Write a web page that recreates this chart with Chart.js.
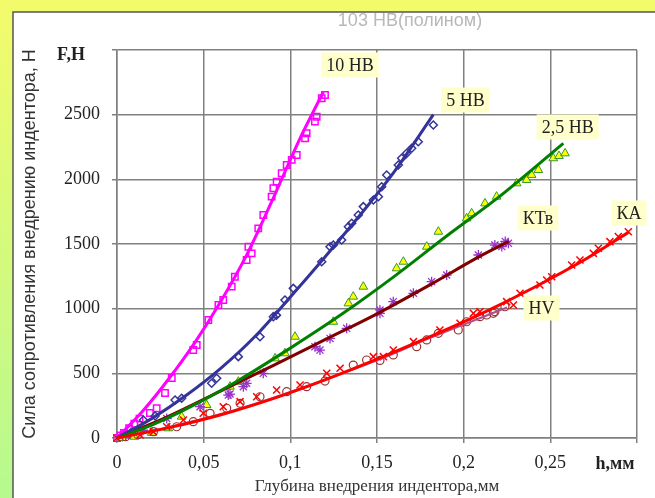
<!DOCTYPE html>
<html><head><meta charset="utf-8">
<script src="https://cdn.jsdelivr.net/npm/chart.js@4.4.0/dist/chart.umd.min.js"></script>
<style>html,body{margin:0;padding:0;overflow:hidden;background:#fff}
#wrap{width:655px;height:498px;position:relative}</style></head>
<body><div id="wrap"><canvas id="c" width="655" height="498"></canvas></div>
<script>
// ---- axis ticks ----
const xTicks = [0, 0.05, 0.1, 0.15, 0.2, 0.25, 0.3];
const yTicks = [0, 500, 1000, 1500, 2000, 2500, 3000];

// ---- 10 HB (markers + trend) ----
const hb10H = [0,0.002,0.004,0.007,0.010,0.013,0.019,0.0229,0.0277,0.0316,0.044,0.046,0.0527,0.0585,0.0613,0.0662,0.068,0.0748,0.0777,0.0758,0.0815,0.0844,0.0892,0.0902,0.0921,0.095,0.0979,0.1008,0.1037,0.1085,0.1094,0.1142,0.1152,0.1181,0.12];
const hb10F = [0,20,40,75,110,150,193,230,348,464,680,719,912,1028,1067,1170,1247,1376,1428,1479,1621,1724,1866,1931,1982,2047,2111,2150,2188,2317,2356,2446,2484,2627,2652];
const hb10FitH = [0,0.015,0.03,0.045,0.06,0.075,0.09,0.105,0.119];
const hb10FitF = [0,210,460,740,1060,1420,1850,2300,2675];

// ---- 5 HB ----
const hb5H = [0.003,0.008,0.0152,0.022,0.0335,0.0373,0.0546,0.0575,0.07,0.0825,0.0902,0.092,0.0969,0.1017,0.1181,0.1229,0.1248,0.1296,0.1335,0.1354,0.1392,0.1421,0.1479,0.1508,0.1527,0.1556,0.1623,0.1642,0.1671,0.17,0.1738,0.1825];
const hb5F = [10,40,139,170,294,307,423,462,629,783,938,950,1067,1157,1363,1479,1492,1531,1634,1660,1724,1789,1840,1866,1943,2034,2111,2163,2201,2240,2291,2420];
const hb5FitH = [0,0.02,0.04,0.06,0.08,0.10,0.12,0.14,0.16,0.1825];
const hb5FitF = [0,150,330,540,790,1090,1400,1720,2060,2500];

// ---- 2,5 HB ----
const hb25H = [0.003,0.01,0.02,0.0296,0.0373,0.0517,0.0652,0.07,0.0912,0.0969,0.1027,0.1248,0.1335,0.1363,0.1421,0.1613,0.1652,0.1787,0.1854,0.2017,0.2046,0.2123,0.219,0.2306,0.2363,0.2392,0.2431,0.2517,0.255,0.2585];
const hb25F = [0,10,40,75,165,255,397,435,616,655,783,899,1041,1093,1170,1312,1363,1479,1595,1698,1737,1814,1866,1969,1995,2034,2072,2163,2180,2201];
const hb25FitH = [0,0.02,0.04,0.07,0.10,0.13,0.16,0.19,0.22,0.2575];
const hb25FitF = [0,100,225,445,695,960,1250,1560,1860,2278];

// ---- КТв ----
const ktvH = [0.005,0.015,0.0287,0.0479,0.0642,0.0652,0.0729,0.0748,0.0844,0.1142,0.1171,0.1229,0.1325,0.1517,0.1517,0.1594,0.171,0.1815,0.1902,0.2085,0.218,0.222,0.224,0.2258];
const ktvF = [20,60,150,242,332,340,397,423,500,706,680,770,848,964,990,1054,1119,1209,1260,1415,1492,1480,1520,1505];
const ktvFitH = [0,0.03,0.06,0.09,0.12,0.15,0.18,0.21,0.226];
const ktvFitF = [0,170,365,560,760,960,1180,1410,1520];

// ---- КА ----
const kaH = [0,0.0133,0.021,0.0287,0.0383,0.0498,0.0613,0.071,0.0806,0.0921,0.1056,0.121,0.1287,0.1479,0.1537,0.1594,0.171,0.1863,0.1979,0.2056,0.2094,0.2248,0.2287,0.2325,0.244,0.2479,0.2508,0.2623,0.2671,0.2748,0.2777,0.2844,0.2892,0.295];
const kaF = [0,23,49,87,139,191,242,281,319,371,410,500,539,629,629,680,745,835,887,964,977,1054,1028,1119,1183,1222,1247,1338,1376,1428,1467,1518,1557,1595];
const kaFitH = [0,0.03,0.06,0.09,0.12,0.15,0.18,0.21,0.24,0.27,0.295];
const kaFitF = [0,80,180,305,450,610,780,960,1160,1380,1590];

// ---- HV ----
const hvH = [0.005,0.012,0.021,0.0344,0.044,0.0537,0.0633,0.071,0.0825,0.0979,0.1094,0.12,0.1363,0.144,0.1517,0.1594,0.1729,0.1787,0.1854,0.1969,0.2017,0.2094,0.2133,0.2171,0.218,0.2238];
const hvF = [10,25,49,87,126,191,230,268,319,358,397,440,564,603,600,642,706,758,809,835,899,938,951,964,977,1015];
const hvFitH = [0,0.03,0.06,0.09,0.12,0.15,0.18,0.21,0.225];
const hvFitF = [0,85,185,310,450,600,770,930,1010];

// ---- annotation labels (text + anchor in data units) ----
const labelText = ['10 HB','5 HB','2,5 HB','КТв','КА','HV'];
const labelH = [0.1344,0.201,0.260,0.2429,0.2954,0.2449];
const labelF = [2884,2613,2405,1701,1740,1005];

const pts = (hs, fs) => hs.map((h, i) => ({x: h, y: fs[i]}));

function fit(hs, fs, color, w) {
  return {data: pts(hs, fs), showLine: true, borderColor: color, borderWidth: w,
    pointRadius: 0, cubicInterpolationMode: 'monotone', fill: false, clip: false};
}
function marks(hs, fs, style, r, border, bg, bw) {
  return {data: pts(hs, fs), showLine: false, pointStyle: style, pointRadius: r,
    borderColor: border, backgroundColor: bg, pointBorderWidth: bw, borderWidth: bw, clip: false};
}

const bgPlugin = {
  id: 'bgp',
  beforeDraw(chart) {
    const ctx = chart.ctx;
    ctx.save();
    const g = ctx.createLinearGradient(0, 0, 0, 498);
    g.addColorStop(0, '#f3fb6a');
    g.addColorStop(1, '#b6f98f');
    ctx.fillStyle = g;
    ctx.fillRect(0, 0, 655, 498);
    ctx.fillStyle = '#ffffff';
    ctx.fillRect(13, 12, 700, 600);
    ctx.strokeStyle = '#555';
    ctx.lineWidth = 1.5;
    ctx.beginPath();
    ctx.moveTo(13, 600); ctx.lineTo(13, 12); ctx.lineTo(700, 12);
    ctx.stroke();
    // title
    ctx.fillStyle = '#b8b8b8';
    ctx.font = '18px "Liberation Sans", Arial, sans-serif';
    ctx.textAlign = 'center';
    ctx.textBaseline = 'middle';
    ctx.fillText('103 HB(полином)', 410, 21);
    ctx.restore();
  },
  afterDatasetsDraw(chart) {
    const ctx = chart.ctx;
    const xs = chart.scales.x, ys = chart.scales.y, ca = chart.chartArea;
    ctx.save();
    ctx.font = '18px "Liberation Serif", "Times New Roman", serif';
    ctx.textAlign = 'center';
    ctx.textBaseline = 'middle';
    labelText.forEach((t, i) => {
      const px = xs.getPixelForValue(labelH[i]);
      const py = ys.getPixelForValue(labelF[i]);
      const w = ctx.measureText(t).width + 10;
      ctx.fillStyle = '#ffffcc';
      ctx.fillRect(px - w / 2, py - 12.5, w, 25);
      ctx.fillStyle = '#222';
      ctx.fillText(t, px, py + 1);
    });
    // axis unit labels
    ctx.font = 'bold 18px "Liberation Serif", "Times New Roman", serif';
    ctx.fillStyle = '#222';
    ctx.fillText('F,H', ca.left - 46, ys.getPixelForValue(3000) + 5);
    ctx.fillText('h,мм', xs.getPixelForValue(0.3) - 22, 464);
    ctx.restore();
  }
};

const gridColor = '#808080';
const tickFont = {family: '"Liberation Serif", "Times New Roman", serif', size: 18};

new Chart(document.getElementById('c'), {
  type: 'scatter',
  data: {
    datasets: [
      fit(kaFitH, kaFitF, '#ff0000', 3),
      fit(hb25FitH, hb25FitF, '#008000', 3),
      fit(hb5FitH, hb5FitF, '#333399', 3),
      fit(hb10FitH, hb10FitF, '#ff00ff', 3),
      fit(ktvFitH, ktvFitF, '#800000', 3),
      fit(hvFitH, hvFitF, '#b0508a', 2),
      marks(kaH, kaF, 'crossRot', 5, '#ff0000', '#ff0000', 1.5),
      marks(hvH, hvF, 'circle', 4, '#993333', 'rgba(0,0,0,0)', 1.2),
      marks(ktvH, ktvF, 'star', 5, '#9933cc', '#9933cc', 1.3),
      marks(hb25H, hb25F, 'triangle', 5, '#339933', '#ffff00', 1),
      marks(hb5H, hb5F, 'rectRot', 4, '#333399', 'rgba(0,0,0,0)', 1.5),
      marks(hb10H, hb10F, 'rect', 4.5, '#ff00ff', 'rgba(0,0,0,0)', 1.5)
    ]
  },
  options: {
    responsive: false,
    animation: false,
    layout: {padding: {top: 50, right: 18, left: 0, bottom: 0}},
    plugins: {legend: {display: false}, tooltip: {enabled: false}},
    scales: {
      x: {
        type: 'linear', min: xTicks[0], max: xTicks[xTicks.length - 1],
        afterFit: s => { s.height = 60; },
        afterBuildTicks: s => { s.ticks = xTicks.map(v => ({value: v})); },
        ticks: {
          padding: 9, font: tickFont, color: '#222', maxRotation: 0, autoSkip: false,
          callback: v => Math.abs(v - 0.3) < 1e-9 ? '' : String(parseFloat(v.toFixed(2))).replace('.', ',')
        },
        grid: {color: gridColor, lineWidth: 1.5, tickLength: 5},
        border: {color: gridColor, width: 1.5},
        title: {display: true, text: 'Глубина внедрения индентора,мм',
          font: {family: '"Liberation Serif", "Times New Roman", serif', size: 17},
          color: '#333', padding: {top: 0, bottom: 1}}
      },
      y: {
        min: yTicks[0], max: yTicks[yTicks.length - 1],
        afterFit: s => { s.width = 117; },
        afterBuildTicks: s => { s.ticks = yTicks.map(v => ({value: v})); },
        ticks: {
          padding: 12, font: tickFont, color: '#222', autoSkip: false,
          callback: v => v === 3000 ? '' : String(v)
        },
        grid: {color: gridColor, lineWidth: 1.5, tickLength: 5},
        border: {color: gridColor, width: 1.5},
        title: {display: true, text: 'Сила сопротивления внедрению индентора, Н',
          font: {family: '"Liberation Sans", Arial, sans-serif', size: 18},
          color: '#333', padding: {top: 19, bottom: 0}}
      }
    }
  },
  plugins: [bgPlugin]
});
</script>
</body></html>
